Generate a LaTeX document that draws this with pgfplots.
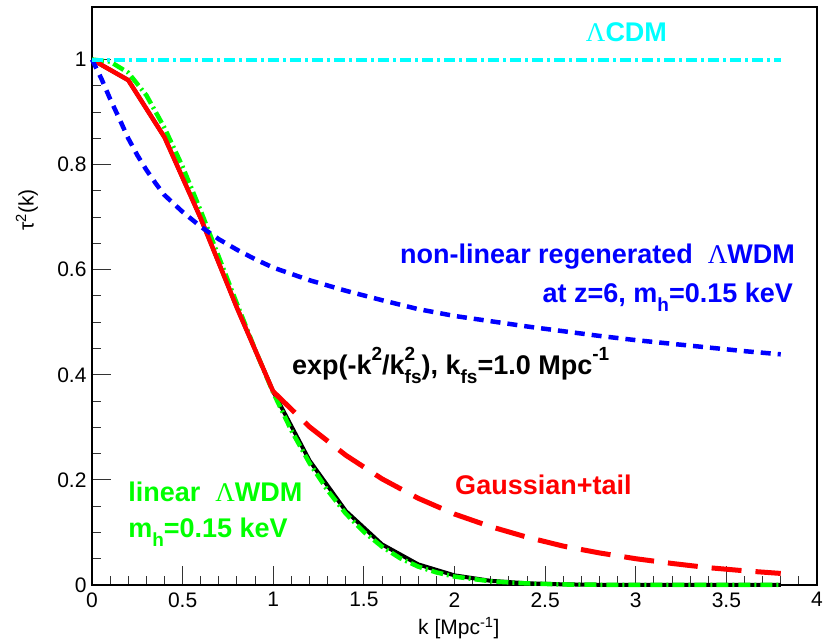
\documentclass[border=0pt]{standalone}
\usepackage{fontspec}
\setmainfont{Liberation Sans}
\newfontfamily\greekserif{Liberation Serif}
\usepackage{pgfplots}
\pgfplotsset{compat=1.18}

\definecolor{rcyan}{RGB}{0,255,255}
\definecolor{rgreen}{RGB}{0,255,0}
\definecolor{rblue}{RGB}{0,0,255}
\definecolor{rred}{RGB}{255,0,0}

% Times-style capital Lambda used in the annotations
\newcommand{\Lam}{{\greekserif\mdseries Λ}}
% sub- and superscripts for the large annotation text
\newcommand{\sub}[1]{\raisebox{-0.33em}{\fontsize{19}{20}\selectfont #1}}
\newcommand{\super}[1]{\raisebox{0.52em}{\fontsize{19}{20}\selectfont #1}}

% tau^2 curves sampled in k [Mpc^-1]
\pgfplotstableread{
k    t
0.0  1.0000
0.2  0.9608
0.4  0.8521
0.6  0.6977
0.8  0.5273
1.0  0.3679
1.2  0.2369
1.4  0.1409
1.6  0.0773
1.8  0.0392
2.0  0.0183
2.2  0.0079
2.4  0.0032
2.6  0.0012
2.8  0.0004
3.0  0.0001
3.2  0.0000
3.4  0.0000
3.6  0.0000
3.8  0.0000
}\gauss

\pgfplotstableread{
k    t
0.0  1.000
0.1  0.996
0.2  0.975
0.3  0.932
0.4  0.870
0.5  0.796
0.6  0.712
0.7  0.624
0.8  0.535
0.9  0.448
1.0  0.366
1.1  0.294
1.2  0.232
1.3  0.180
1.4  0.136
1.5  0.101
1.6  0.073
1.7  0.051
1.8  0.035
1.9  0.024
2.0  0.016
2.2  0.007
2.4  0.003
2.6  0.001
2.8  0.0004
3.0  0.0
3.4  0.0
3.8  0.0
}\linwdm

\pgfplotstableread{
k    t
1.0  0.368
1.2  0.301
1.4  0.247
1.6  0.202
1.8  0.165
2.0  0.135
2.2  0.111
2.4  0.091
2.6  0.074
2.8  0.061
3.0  0.050
3.2  0.041
3.4  0.033
3.6  0.027
3.8  0.022
}\tail

\pgfplotstableread{
k     t
0.00  1.000
0.05  0.965
0.10  0.925
0.15  0.888
0.20  0.850
0.25  0.818
0.30  0.790
0.35  0.765
0.40  0.742
0.50  0.710
0.60  0.682
0.70  0.658
0.80  0.638
0.90  0.620
1.00  0.604
1.20  0.580
1.40  0.560
1.60  0.542
1.80  0.525
2.00  0.512
2.20  0.502
2.40  0.492
2.60  0.483
2.80  0.474
3.00  0.466
3.20  0.459
3.40  0.452
3.60  0.445
3.80  0.439
}\nonlin

\pgfplotstableread{
k    t
0.0  1.0
3.8  1.0
}\lcdm

\begin{document}
\begin{tikzpicture}
\useasboundingbox (-92pt,-59pt) rectangle (731pt,585pt);
\begin{axis}[
  scale only axis,
  width=725pt, height=578pt,
  xmin=0, xmax=4, ymin=0, ymax=1.1,
  axis line style={line width=1.4pt},
  tick align=inside,
  xtick={0,0.5,...,4},
  ytick={0,0.2,...,1.0},
  minor x tick num=4,
  minor y tick num=3,
  xtick pos=bottom, ytick pos=left,
  major tick length=19pt, minor tick length=9pt,
  every tick/.style={line width=1pt, black!80},
  /pgf/number format/assume math mode=true,
  xticklabel style={font=\fontsize{21}{25}\selectfont, yshift=-4pt},
  yticklabel style={font=\fontsize{21}{25}\selectfont, xshift=-2pt},
  clip=false,
]
% exp(-k^2/k_fs^2)
\addplot[black, line width=4pt] table[x=k,y=t] {\gauss};
% linear Lambda-WDM
\addplot[rgreen, line width=4.5pt, dash pattern=on 12pt off 4pt on 2pt off 4pt] table[x=k,y=t] {\linwdm};
% Gaussian+tail: Gaussian core and exponential tail
\addplot[rred, line width=4.5pt] table[x=k,y=t, restrict x to domain=0:1.0] {\gauss};
\addplot[rred, line width=5pt, dash pattern=on 30pt off 14pt] table[x=k,y=t] {\tail};
% non-linear regenerated Lambda-WDM
\addplot[rblue, line width=4.5pt, dash pattern=on 10pt off 7pt] table[x=k,y=t] {\nonlin};
% Lambda-CDM reference
\addplot[rcyan, line width=4pt, dash pattern=on 11pt off 4pt on 3pt off 4pt] table[x=k,y=t] {\lcdm};

\begin{scope}[every node/.style={font=\fontsize{27}{30}\selectfont\bfseries, inner sep=0pt}]
\node[rcyan, anchor=base west] at (axis cs:2.724,1.034) {\Lam CDM};
\node[rblue, anchor=base east] at (axis cs:3.879,0.611) {non-linear regenerated \ \Lam WDM};
\node[rblue, anchor=base east] at (axis cs:3.868,0.538) {at z=6, m\sub{h}=0.15 keV};
\node[black, anchor=base west] at (axis cs:1.103,0.401)
  {exp(-k\super{2}/k\rlap{\super{2}}\sub{fs}), k\sub{fs}=1.0 Mpc\super{-1}};
\node[rred, anchor=base west] at (axis cs:2.003,0.172) {Gaussian+tail};
\node[rgreen, anchor=base west] at (axis cs:0.199,0.158) {linear \ \Lam WDM};
\node[rgreen, anchor=base west] at (axis cs:0.199,0.090) {m\sub{h}=0.15 keV};
\end{scope}

\node[font=\fontsize{21}{25}\selectfont, rotate=90, inner sep=0pt]
  at ([xshift=-65pt]rel axis cs:0,0.649) {τ\textsuperscript{2}(k)};
\node[font=\fontsize{21}{25}\selectfont, inner sep=0pt]
  at ([yshift=-43pt]rel axis cs:0.506,0) {k [Mpc\textsuperscript{-1}]};
\end{axis}
\end{tikzpicture}
\end{document}
